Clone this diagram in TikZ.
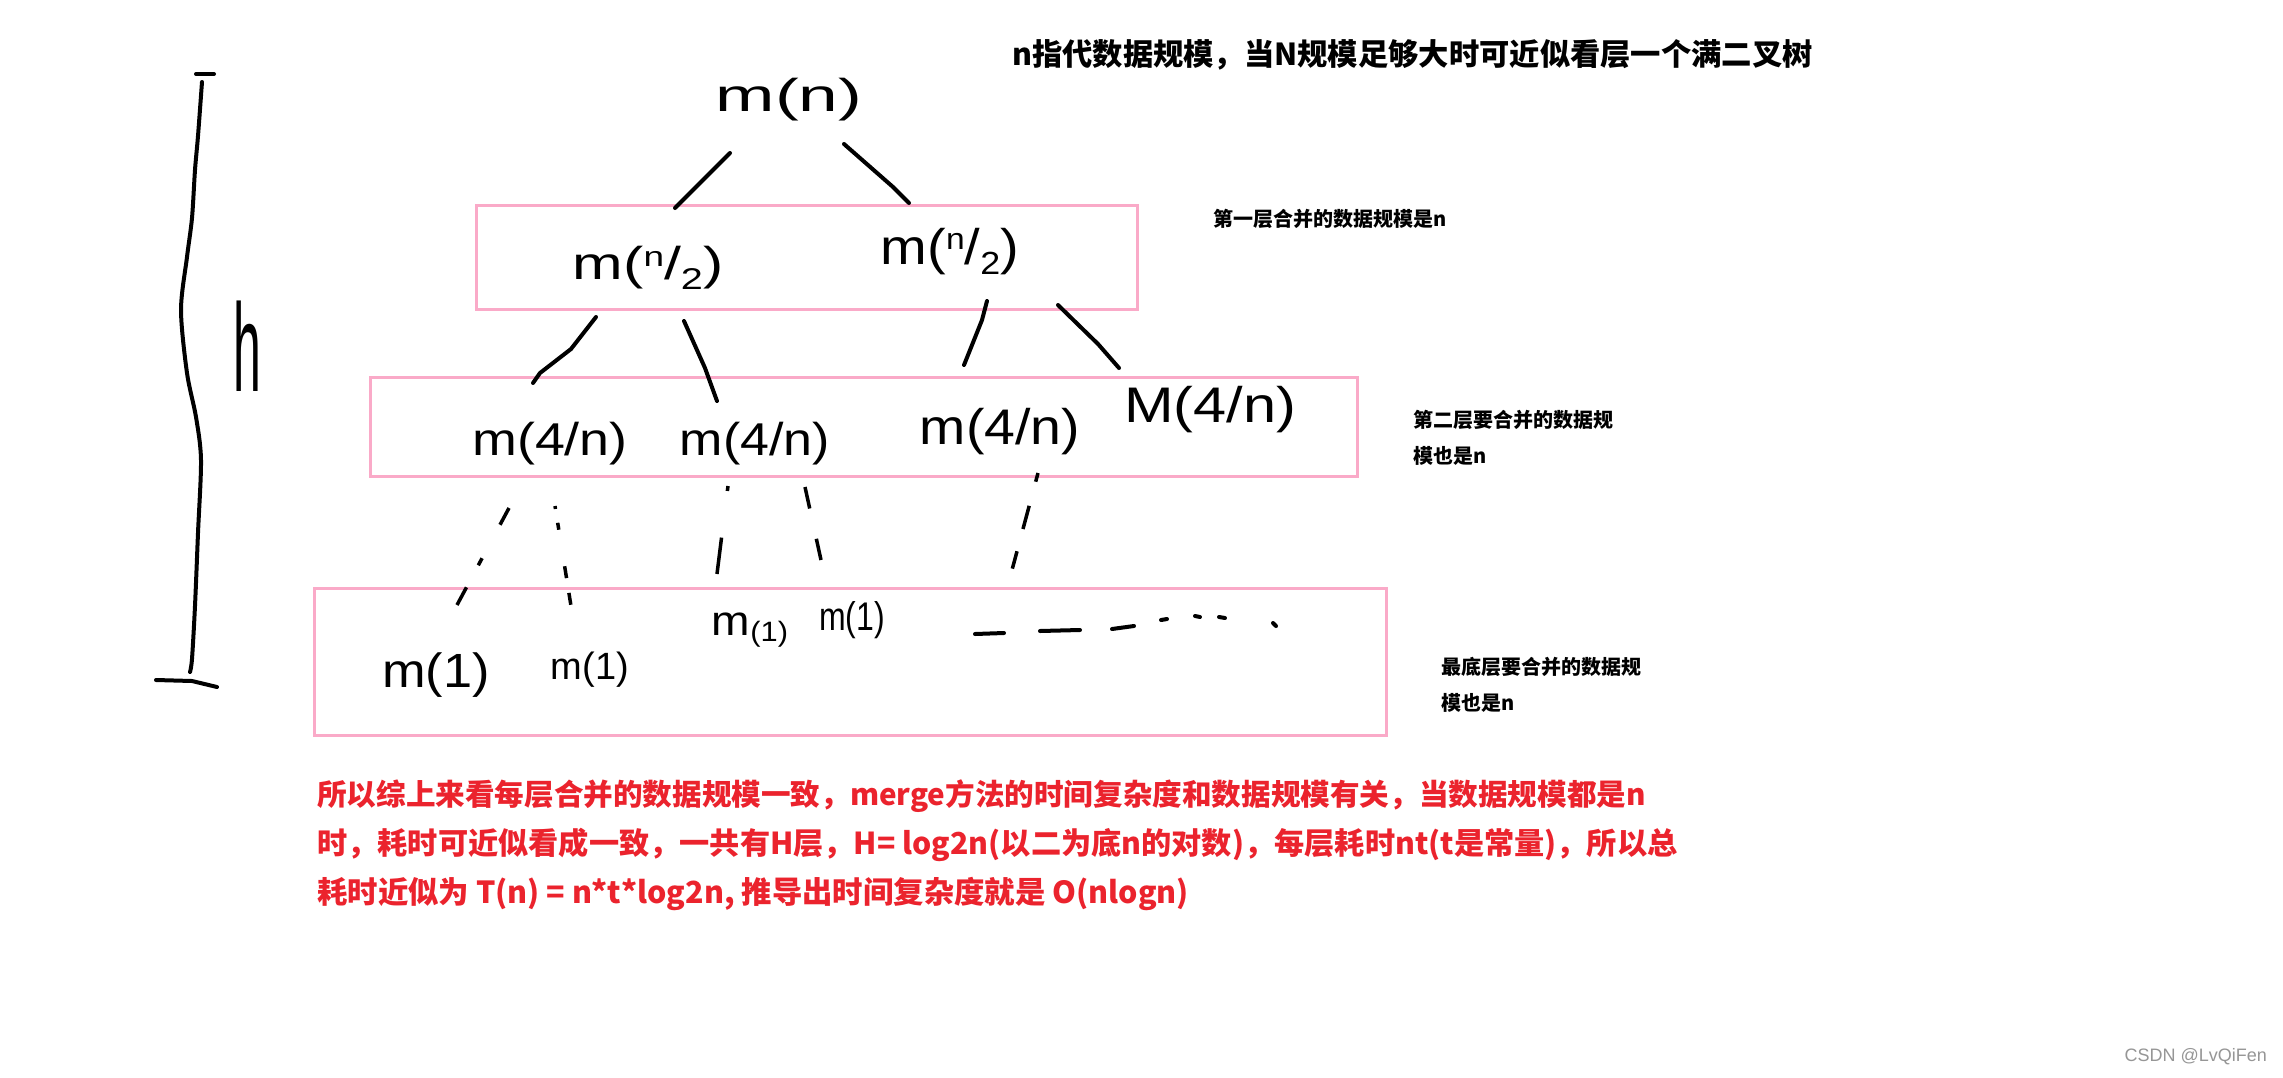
\documentclass[tikz,border=0pt]{standalone}
\usepackage{fontspec}
\usepackage{graphicx}
\setmainfont{Liberation Sans}
\newfontfamily\cjk{Noto Sans CJK SC}
\newfontfamily\hwf{Liberation Sans}
\definecolor{boxpink}{RGB}{250,170,200}
\definecolor{txtred}{RGB}{235,35,45}
\definecolor{wmgray}{RGB}{150,150,150}
\newcommand\fs[1]{\fontsize{#1}{#1}\selectfont}
\tikzset{
  layerbox/.style={draw=boxpink, line width=3pt, inner sep=0pt},
  pen/.style={line width=4pt, line cap=round, line join=round},
  hw/.style={inner sep=0pt, font=\hwf},
  cjktext/.style={inner sep=0pt, anchor=west, font=\cjk\bfseries},
}
\begin{document}
\begin{tikzpicture}[x=1pt,y=-1pt]
\useasboundingbox[fill=white] (0,0) rectangle (2283,1077);

% layer boxes
\node[layerbox, minimum width=661pt, minimum height=104pt] (L1) at (806.5,257) {};
\node[layerbox, minimum width=987pt, minimum height=99pt] (L2) at (864,426.5) {};
\node[layerbox, minimum width=1072pt, minimum height=147pt] (L3) at (850,661.5) {};

% height bracket
\draw[pen] plot[smooth] coordinates {(202,82) (198,136) (195,170) (192,218) (187,257) (181,310) (187,373) (196,417) (201,460) (198,533) (195,606) (192,659) (190,672)};
\draw[pen] (196,74) -- (214,74);
\draw[pen] (156,680) -- (192,681) -- (217,687);
\node[hw] (h) at (247,346) {\scalebox{0.4}[1]{\fs{125}h}};

% handwritten labels
\node[hw] (mn) at (789,100) {\scalebox{1.55}[1]{\fs{46}m(n)}};
\node[hw] (mh1) at (648,268) {\scalebox{1.32}[1]{\fs{46}m(\raisebox{0.3em}{\fs{28}n}/\raisebox{-0.2em}{\fs{30}2})}};
\node[hw] (mh2) at (950,252) {\scalebox{1.12}[1]{\fs{50}m(\raisebox{0.3em}{\fs{30}n}/\raisebox{-0.2em}{\fs{32}2})}};
\node[hw] (mq1) at (550,444) {\scalebox{1.17}[1]{\fs{46}m(4/n)}};
\node[hw] (mq2) at (755,444) {\scalebox{1.13}[1]{\fs{46}m(4/n)}};
\node[hw] (mq3) at (1000,432) {\scalebox{1.11}[1]{\fs{50}m(4/n)}};
\node[hw] (mq4) at (1210,410) {\scalebox{1.19}[1]{\fs{50}M(4/n)}};
\node[hw] (m11) at (436,675) {\scalebox{1.09}[1]{\fs{48}m(1)}};
\node[hw] (m12) at (590,670) {\fs{38}m(1)};
\node[hw] (m13) at (750,630) {\scalebox{1.1}[1]{\fs{42}m\raisebox{-0.15em}{\fs{28}(1)}}};
\node[hw] (m14) at (852,620) {\scalebox{0.8}[1]{\fs{40}m(1)}};

% connector end points
\coordinate (a1) at (730,153); \coordinate (a2) at (675,208);
\coordinate (b1) at (844,144); \coordinate (b2) at (893,187); \coordinate (b3) at (909,203);
\coordinate (c1) at (596,317); \coordinate (c2) at (571,349); \coordinate (c3) at (540,373); \coordinate (c4) at (533,383);
\coordinate (d1) at (684,321); \coordinate (d2) at (705,368); \coordinate (d3) at (717,401);
\coordinate (e1) at (987,301); \coordinate (e2) at (982,320); \coordinate (e3) at (964,365);
\coordinate (f1) at (1058,305); \coordinate (f2) at (1098,344); \coordinate (f3) at (1119,368);

\draw[pen] (a1) -- (a2);
\draw[pen] (b1) -- (b2) -- (b3);
\draw[pen] (c1) -- (c2) -- (c3) -- (c4);
\draw[pen] (d1) -- (d2) -- (d3);
\draw[pen] (e1) -- (e2) -- (e3);
\draw[pen] (f1) -- (f2) -- (f3);

% dotted descents
\coordinate (g1) at (509,508); \coordinate (g2) at (457,605);
\coordinate (k1) at (555,506); \coordinate (k2) at (571,606);
\coordinate (p1) at (728,486); \coordinate (p2) at (717,574);
\coordinate (q1) at (805,487); \coordinate (q2) at (821,560);
\coordinate (r1) at (1038,473); \coordinate (r2) at (1012,570);
\draw[pen, line width=3.5pt, line cap=butt, dash pattern=on 19pt off 38pt on 8pt off 25pt on 21pt off 40pt] (g1) -- (g2);
\draw[pen, line width=3.5pt, line cap=butt, dash pattern=on 3pt off 14pt on 7pt off 37pt on 12pt off 15pt on 12pt off 40pt] (k1) -- (k2);
\draw[pen, line width=3.5pt, line cap=butt, dash pattern=on 5pt off 47pt on 37pt off 40pt] (p1) -- (p2);
\draw[pen, line width=3.5pt, line cap=butt, dash pattern=on 22pt off 31pt on 22pt off 40pt] (q1) -- (q2);
\draw[pen, line width=3.5pt, line cap=butt, dash pattern=on 9pt off 25pt on 24pt off 23pt on 18pt off 40pt] (r1) -- (r2);

% trailing dashes in bottom layer
\draw[pen] (975,634) -- (1004,633);
\draw[pen] (1040,631) -- (1080,630);
\draw[pen] (1112,629) -- (1134,626);
\draw[pen] (1161,620) -- (1167,619);
\draw[pen] (1195,616) -- (1200,617);
\draw[pen] (1219,617) -- (1225,618);
\draw[pen] (1273,623) -- (1276,626);

% texts
\node[cjktext, font=\cjk\bfseries\fs{30.3}] (title) at (1012,55) {n指代数据规模，当N规模足够大时可近似看层一个满二叉树};
\node[cjktext, font=\cjk\bfseries\fs{20}] (t1) at (1213,219) {第一层合并的数据规模是n};
\node[cjktext, font=\cjk\bfseries\fs{20}] (t2a) at (1413,420) {第二层要合并的数据规};
\node[cjktext, font=\cjk\bfseries\fs{20}] (t2b) at (1413,456) {模也是n};
\node[cjktext, font=\cjk\bfseries\fs{20}] (t3a) at (1441,667) {最底层要合并的数据规};
\node[cjktext, font=\cjk\bfseries\fs{20}] (t3b) at (1441,703) {模也是n};

\node[cjktext, text=txtred, font=\cjk\bfseries\fs{29.6}] (r1t) at (317,796) {所以综上来看每层合并的数据规模一致，merge方法的时间复杂度和数据规模有关，当数据规模都是n};
\node[cjktext, text=txtred, font=\cjk\bfseries\fs{30.2}] (r2t) at (317,845) {时，耗时可近似看成一致，一共有H层，H= log2n(以二为底n的对数)，每层耗时nt(t是常量)，所以总};
\node[cjktext, text=txtred, font=\cjk\bfseries\fs{30.4}] (r3t) at (317,894) {耗时近似为 T(n) = n*t*log2n, 推导出时间复杂度就是 O(nlogn)};

\node[inner sep=0pt, anchor=east, text=wmgray, font=\fs{18}] (wm) at (2267,1057) {CSDN @LvQiFen};
\end{tikzpicture}
\end{document}
